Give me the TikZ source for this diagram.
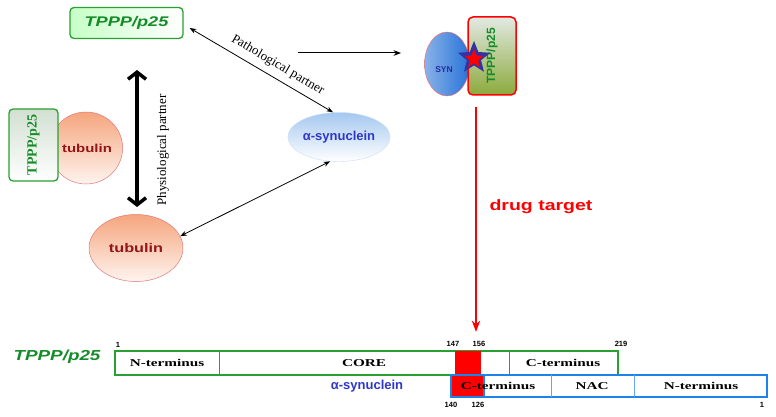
\documentclass[tikz,border=0pt]{standalone}
\usepackage{fontspec}
\setmainfont{Liberation Serif}
\setsansfont{Liberation Sans}
\newfontfamily\widesans[FakeStretch=1.3]{Liberation Sans}
\newfontfamily\wideserif[FakeStretch=1.45]{Liberation Serif}
\usepackage{tikz}
\usetikzlibrary{arrows.meta,shapes.geometric}

\definecolor{tpppgreen}{RGB}{20,140,40}
\definecolor{boxgreen}{RGB}{40,160,50}
\definecolor{synblue}{RGB}{45,55,200}
\definecolor{asynfill}{RGB}{165,200,240}
\definecolor{synfill}{RGB}{40,115,215}
\definecolor{tubred}{RGB}{150,20,20}
\definecolor{tubfill}{RGB}{245,165,125}
\definecolor{tubline}{RGB}{225,120,120}
\definecolor{olive}{RGB}{140,170,60}
\definecolor{mapblue}{RGB}{30,130,235}

\begin{document}
\begin{tikzpicture}[x=1pt,y=-1pt,>=Stealth,
  tpppbox/.style={draw=boxgreen,line width=1.3pt,rounded corners=4pt},
  tubulin/.style={ellipse,draw=tubline,line width=0.5pt,top color=tubfill,bottom color=tubfill!12,text=tubred,inner sep=0pt},
  partner/.style={font=\fontsize{13}{15}\selectfont},
  maptext/.style={font=\wideserif\bfseries\fontsize{10.5}{12}\selectfont},
  mapnum/.style={font=\sffamily\bfseries\fontsize{7.5}{9}\selectfont,inner sep=0pt}]

\useasboundingbox (0,0) rectangle (776,417);

  \draw (126.5,23) node[tpppbox,left color=green!22,right color=white,minimum width=113pt,minimum height=31pt] (tppp) {\widesans\bfseries\itshape\fontsize{14}{16}\selectfont\textcolor{tpppgreen}{TPPP/p25}};
  \draw (339,137) node[ellipse,draw=asynfill!60,top color=asynfill,bottom color=white,minimum width=83pt,minimum height=49pt,inner sep=0pt] (asyn) {\sffamily\bfseries\fontsize{13}{15}\selectfont\textcolor{synblue}{α-synuclein}};
  \draw (136,248) node[tubulin,minimum width=94pt,minimum height=67pt,font=\widesans\bfseries\fontsize{12.5}{14}\selectfont] (tub) {tubulin};

  % tubulin with bound TPPP/p25
  \draw (86,148) node[tubulin,minimum width=72pt,minimum height=72pt,font=\widesans\bfseries\fontsize{11.5}{13}\selectfont] (tubL) {\hspace*{2pt}tubulin};
  \draw (33.5,145) node[tpppbox,rotate=90,top color=green!18!gray!30,bottom color=white,minimum width=72pt,minimum height=49pt] (tpppL) {\bfseries\fontsize{14}{16}\selectfont\textcolor{tpppgreen}{TPPP/p25}};

  % complex
  \draw (447,64) node[ellipse,draw=red!60,left color=synfill!55,right color=synfill,minimum width=45pt,minimum height=64pt,inner sep=0pt] (syn) {};
  \draw (444,70) node (synlabel) {\sffamily\bfseries\fontsize{8.5}{10}\selectfont\textcolor{synblue!80!black}{SYN}};
  \draw (492,56) node[draw=red,line width=1.5pt,rounded corners=5pt,rotate=90,top color=green!12!gray!20,bottom color=olive,minimum width=78pt,minimum height=48pt] (tpppR) {\sffamily\bfseries\fontsize{12}{14}\selectfont\textcolor{tpppgreen}{TPPP/p25}};
  \draw (474,58) node[star,star points=5,star point ratio=2.3,fill=blue!55!black!80,minimum size=34pt,inner sep=0pt] (starout) {};
  \draw (474,59) node[star,star points=5,star point ratio=2.3,fill=red,minimum size=20pt,inner sep=0pt] (starin) {};

  \coordinate (pathend) at (298,53);
  \coordinate (complexstart) at (401,53);
  \coordinate (physup) at (137,70);
  \coordinate (physdown) at (137,207);
  \coordinate (drugtop) at (476,107);

  \path[<->,line width=0.8pt] ([shift={(6,5)}]tppp.east) edge node[sloped,above=3pt,pos=0.57,partner] {Pathological partner} ([xshift=-6pt]asyn.north);
  \path[<->,line width=0.8pt] (tub.15) edge (asyn.250);
  \draw[->,line width=1pt] (pathend) -- (complexstart);
  \draw[{Straight Barb[length=7pt,width=18pt]}-{Straight Barb[length=7pt,width=18pt]},line width=3.5pt] (physup) -- (physdown);
  \draw (163,150) node[rotate=90,partner] (phys) {Physiological partner};

  % domain map
  \draw (57,357) node (tpppmap) {\widesans\bfseries\itshape\fontsize{14.5}{16}\selectfont\textcolor{tpppgreen}{TPPP/p25}};
  \draw[boxgreen,line width=1.2pt] (115,351) rectangle (618,375);
  \draw[boxgreen,line width=0.8pt] (219,351) -- (219,375) (509,351) -- (509,375);
  \draw (468,363) node[fill=red,minimum width=26pt,minimum height=24pt,inner sep=0pt] (hotspot) {};
  \fill[red] (451,375) rectangle (484,397);
  \draw[mapblue,line width=1.6pt] (451,375) rectangle (767,397);
  \draw[mapblue,line width=1.6pt] (484,375) -- (484,397);
  \draw[mapblue!70,line width=0.6pt] (551,375) -- (551,397) (634,375) -- (634,397);

  \draw[->,red,line width=1.8pt] (drugtop) -- ([yshift=19pt]drugtop |- hotspot.north);
  \draw (541,207) node (drug) {\widesans\bfseries\fontsize{15}{17}\selectfont\textcolor{red}{drug target}};

  \draw (167,363) node[maptext] (nterm) {N-terminus};
  \draw (364,363) node[maptext] (core) {CORE};
  \draw (563,363) node[maptext] (cterm) {C-terminus};
  \draw (367,386) node (asynmap) {\sffamily\bfseries\fontsize{13}{15}\selectfont\textcolor{synblue}{α-synuclein}};
  \draw (498,386) node[maptext] (ctermS) {C-terminus};
  \draw (592,386) node[maptext] (nac) {NAC};
  \draw (701,386) node[maptext] (ntermS) {N-terminus};

  \draw (118,345) node[mapnum] (n1) {1};
  \draw (453,344) node[mapnum] (n147) {147};
  \draw (479,344) node[mapnum] (n156) {156};
  \draw (621,344) node[mapnum] (n219) {219};
  \draw (451,405) node[mapnum] (n140) {140};
  \draw (478,405) node[mapnum] (n126) {126};
  \draw (762,405) node[mapnum] (n1s) {1};

\end{tikzpicture}
\end{document}
